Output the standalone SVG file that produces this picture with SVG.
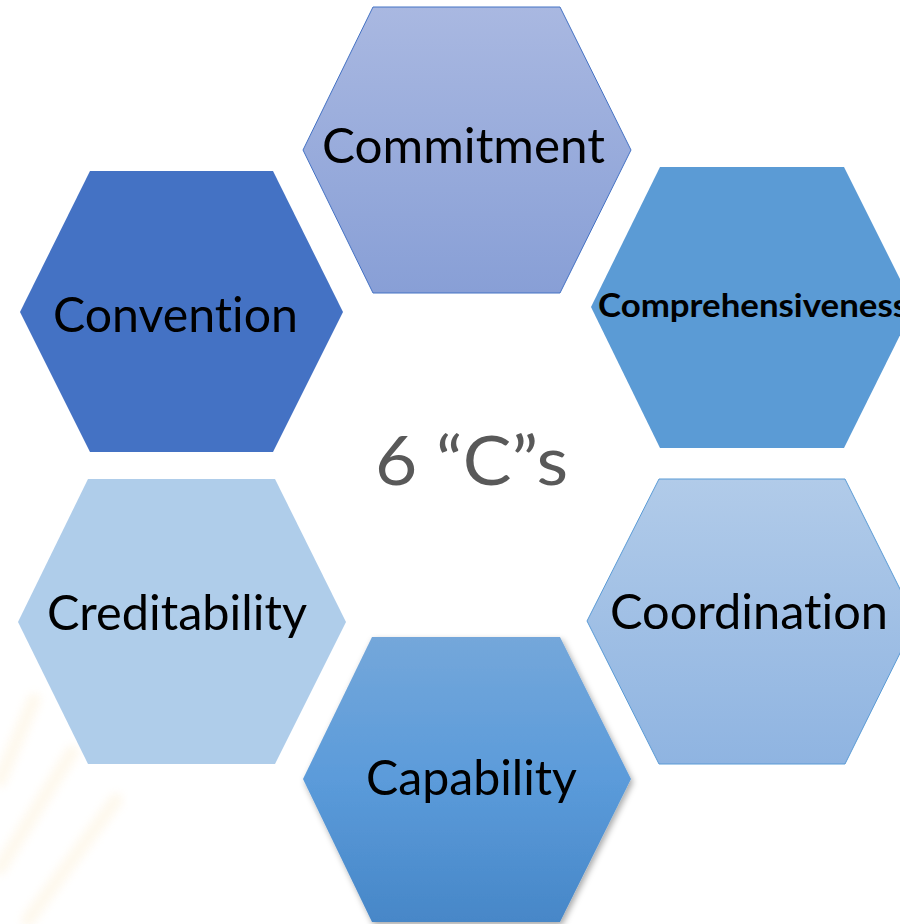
<svg xmlns="http://www.w3.org/2000/svg" width="900" height="924" viewBox="0 0 900 924">
<style>
.lbl{font-family:Lato,"Open Sans","Liberation Sans",sans-serif;font-size:49px;fill:#000;text-anchor:middle;font-variant-ligatures:none;font-feature-settings:"liga" 0,"clig" 0}
.bold{font-weight:bold;font-size:33px}
.center{font-family:Lato,"Open Sans","Liberation Sans",sans-serif;font-size:68px;fill:#595959;text-anchor:middle;font-variant-ligatures:none}
</style>
<defs>
<linearGradient id="gCommit" x1="0" y1="0" x2="0" y2="1"><stop offset="0" stop-color="#A9B8E1"/><stop offset="1" stop-color="#889FD6"/></linearGradient>
<linearGradient id="gCoord" x1="0" y1="0" x2="0" y2="1"><stop offset="0" stop-color="#B1CBE9"/><stop offset="1" stop-color="#8FB4E1"/></linearGradient>
<linearGradient id="gCap" x1="0" y1="0" x2="0" y2="1"><stop offset="0" stop-color="#74A7DA"/><stop offset="0.5" stop-color="#5B9BDA"/><stop offset="1" stop-color="#4787C8"/></linearGradient>
<filter id="shadow" x="-10%" y="-10%" width="120%" height="120%"><feDropShadow dx="2" dy="3" stdDeviation="3" flood-color="#000" flood-opacity="0.35"/></filter>
<filter id="soft"><feGaussianBlur stdDeviation="4"/></filter>
</defs>
<rect width="900" height="924" fill="#fff"/>
<g id="background" filter="url(#soft)" stroke="#FDF1D9" stroke-width="14" stroke-linecap="round" opacity="0.45" fill="none">
<path d="M34 700 L0 780"/>
<path d="M72 752 L0 868"/>
<path d="M116 800 L28 920"/>
</g>
<g id="commitment">
<polygon points="373,7 560,7 631,150 560,293 373,293 303,150" fill="url(#gCommit)" stroke="#4472C4" stroke-width="1"/>
<text class="lbl" x="463.5" y="163" textLength="283" lengthAdjust="spacingAndGlyphs">Commitment</text>
</g>
<g id="convention">
<polygon points="90,171 273,171 343,312 273,452 90,452 20,312" fill="#4472C4"/>
<text class="lbl" x="175.5" y="332" textLength="245" lengthAdjust="spacingAndGlyphs">Convention</text>
</g>
<g id="comprehensiveness">
<polygon points="660,167 844,167 914,307 844,448 660,448 591,307" fill="#5B9BD5"/>
<text class="lbl bold" x="753" y="317" textLength="310" lengthAdjust="spacingAndGlyphs">Comprehensiveness</text>
</g>
<g id="center">
<text class="center" x="471.5" y="485" textLength="193" lengthAdjust="spacingAndGlyphs">6 “C”s</text>
</g>
<g id="creditability">
<polygon points="88,479 275,479 346,622 275,764 88,764 18,622" fill="#AFCDEA"/>
<text class="lbl" x="177" y="630" textLength="260" lengthAdjust="spacingAndGlyphs">Creditability</text>
</g>
<g id="coordination">
<polygon points="659,479 845,479 916,621 845,764 659,764 587,621" fill="url(#gCoord)" stroke="#5B9BD5" stroke-width="1"/>
<text class="lbl" x="749" y="629" textLength="278" lengthAdjust="spacingAndGlyphs">Coordination</text>
</g>
<g id="capability" filter="url(#shadow)">
<polygon points="372,637 560,637 631,779 560,922 372,922 303,779" fill="url(#gCap)"/>
<text class="lbl" x="471.5" y="795" textLength="211" lengthAdjust="spacingAndGlyphs">Capability</text>
</g>
<g id="connectors"/>
</svg>
